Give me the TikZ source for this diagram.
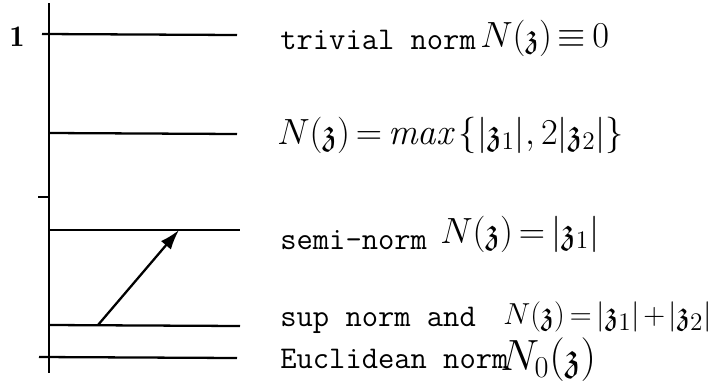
\documentclass[tikz,border=0pt]{standalone}
\usepackage{amsmath,amssymb}
\usepackage{fontspec}
\usetikzlibrary{arrows.meta, positioning}
\newcommand{\tightmath}{\thickmuskip=3mu\relax\medmuskip=2mu\relax}
\tikzset{
  level/.style={line width=1.3pt, draw=black},
  axis/.style={line width=1.3pt, draw=black},
  lab/.style={anchor=west, inner sep=0pt, font=\ttfamily\fontsize{18}{21}\selectfont},
  form/.style={anchor=west, inner sep=0pt, font=\fontsize{21}{25}\selectfont\tightmath},
  arrow/.style={-{Latex[length=4mm,width=2.6mm]}, line width=1.3pt, draw=black}
}
\newcommand{\zz}{\mathfrak{z}}

\begin{document}
\begin{tikzpicture}[x=0.02cm, y=-0.02cm]
\useasboundingbox (0,0) rectangle (724,383);

% axis and levels
\coordinate (top) at (49,3);
\coordinate (bot) at (49,373);
\draw[axis] (top) -- (bot);
\node[inner sep=0pt, font=\fontsize{17}{20}\selectfont] (one) at (17,37) {$\mathbf{1}$};

\coordinate (l1a) at (42,34);  \coordinate (l1b) at (237,35);
\coordinate (l2a) at (49,133); \coordinate (l2b) at (237,134);
\coordinate (l3a) at (49,230); \coordinate (l3b) at (240,230);
\coordinate (l4a) at (49,325); \coordinate (l4b) at (240,326);
\coordinate (l5a) at (39,357); \coordinate (l5b) at (237,358);
\coordinate (ticka) at (38,197); \coordinate (tickb) at (49,197);

\draw[level] (l1a) -- (l1b);
\draw[level] (l2a) -- (l2b);
\draw[level] (l3a) -- (l3b);
\draw[level] (l4a) -- (l4b);
\draw[level] (l5a) -- (l5b);
\draw[level] (ticka) -- (tickb);

% the arrow
\coordinate (from) at (98,325);
\coordinate (to) at (179,230);
\draw[arrow] (from) -- (to);

% labels
\node[lab] (triv) at (280,40) {trivial norm};
\node[form, font=\fontsize{19.5}{23}\selectfont\tightmath] (ftriv) at (480,38) {$N(\zz)\equiv 0$};
\node[form] (fmax) at (277,135) {$N(\zz)=\mathit{max}\,\{|\zz_1|,2|\zz_2|\}$};
\node[lab] (semi) at (280,240) {semi-norm};
\node[form] (fsemi) at (440,234) {$N(\zz)=|\zz_1|$};
\node[lab] (sup) at (280,320) {sup norm and};
\node[form, font=\fontsize{19}{23}\selectfont\tightmath] (fsup) at (503,317) {$N(\zz)=|\zz_1|+|\zz_2|$};
\node[lab] (eucl) at (280,359) {Euclidean norm};
\node[form, font=\fontsize{23}{27}\selectfont\tightmath] (feucl) at (500,360) {$N_0(\zz)$};

\end{tikzpicture}
\end{document}
